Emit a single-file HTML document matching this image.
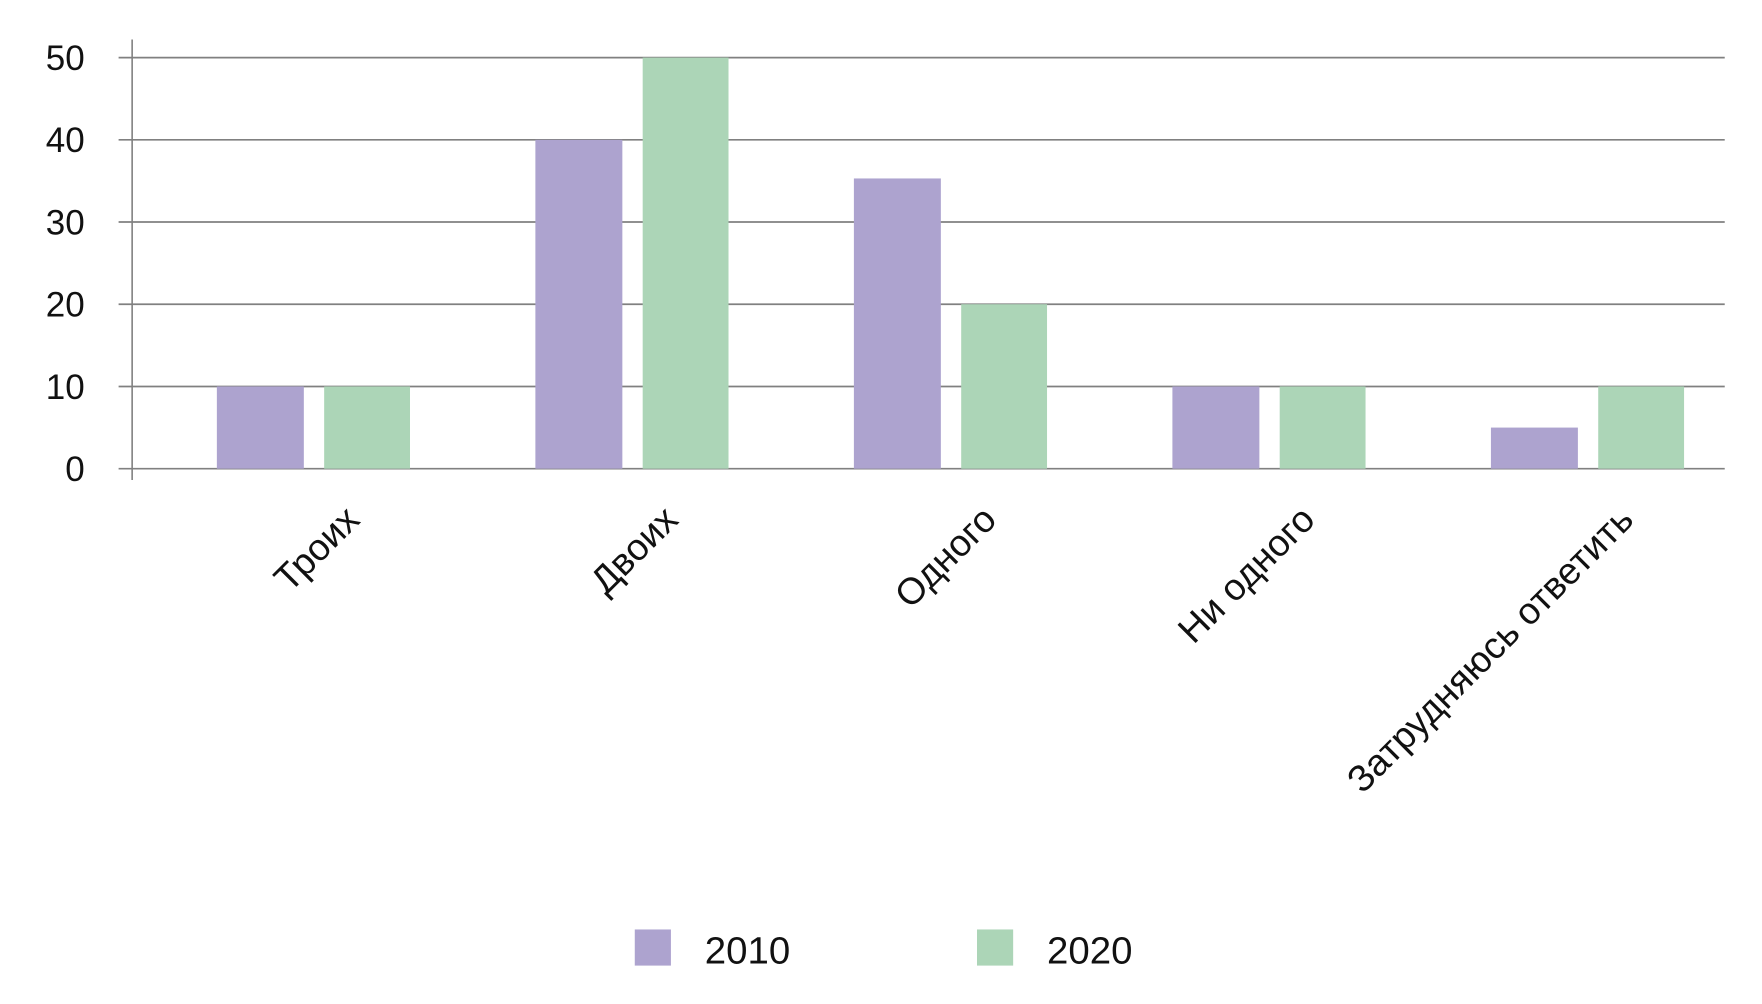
<!DOCTYPE html>
<html><head><meta charset="utf-8"><style>
html,body{margin:0;padding:0;background:#fff;}
svg{display:block;font-family:"Liberation Sans",sans-serif;}
</style></head><body>
<svg id="chart" width="1762" height="1004" viewBox="0 0 1560 889" preserveAspectRatio="none" xmlns="http://www.w3.org/2000/svg">
<g id="grid"></g><g id="bars"></g><g id="labels"></g>
<g>
<rect x="562" y="823" width="32" height="32" fill="#ada3cf"/>
<text x="624" y="853" font-size="34" fill="#111">2010</text>
<rect x="865" y="823" width="32" height="32" fill="#acd5b7"/>
<text x="927" y="853" font-size="34" fill="#111">2020</text>
</g>
</svg>
<script>
const categories = ["Троих","Двоих","Одного","Ни одного","Затрудняюсь ответить"];
const values2010 = [10,40,35.3,10,5];
const values2020 = [10,50,20,10,10];
const yTicks = [0,10,20,30,40,50];
const NS="http://www.w3.org/2000/svg";
const x0=117,x1=1527,yBase=415,yTop=51;
const y=v=>yBase-(v/50)*(yBase-yTop);
const band=(x1-x0)/categories.length;
const gx=i=>x0+i*band;
function mk(t,a,p){const e=document.createElementNS(NS,t);for(const k in a)e.setAttribute(k,a[k]);p.appendChild(e);return e;}
const grid=document.getElementById('grid'),bars=document.getElementById('bars'),labels=document.getElementById('labels');
const ax=mk('line',{x1:x0,x2:x0,y1:35,y2:425,stroke:'#888','stroke-width':1.5},grid);


yTicks.forEach(t=>{
  const l=mk('line',{x1:105,x2:x1,y1:y(t),y2:y(t),stroke:'#808080','stroke-width':1.5},grid);
  
  
  const tx=mk('text',{x:75,y:y(t)+11,'text-anchor':'end','font-size':31,fill:'#111'},grid);
  tx.textContent=t;
  
  
});
categories.forEach((c,i)=>{
  const g=gx(i);
  const b1=mk('rect',{x:g+75,width:77,y:y(values2010[i]),height:yBase-y(values2010[i]),fill:'#ada3cf'},bars);
  
  
  const b2=mk('rect',{x:g+170,width:76,y:y(values2020[i]),height:yBase-y(values2020[i]),fill:'#acd5b7'},bars);
  
  
  const ex=g+203,ey=462;
  const t=mk('text',{x:ex,y:ey,'text-anchor':'end','font-size':33,fill:'#111',transform:`rotate(-45 ${ex} ${ey})`},labels);
  t.textContent=c;
  
  
});
</script>
</body></html>
